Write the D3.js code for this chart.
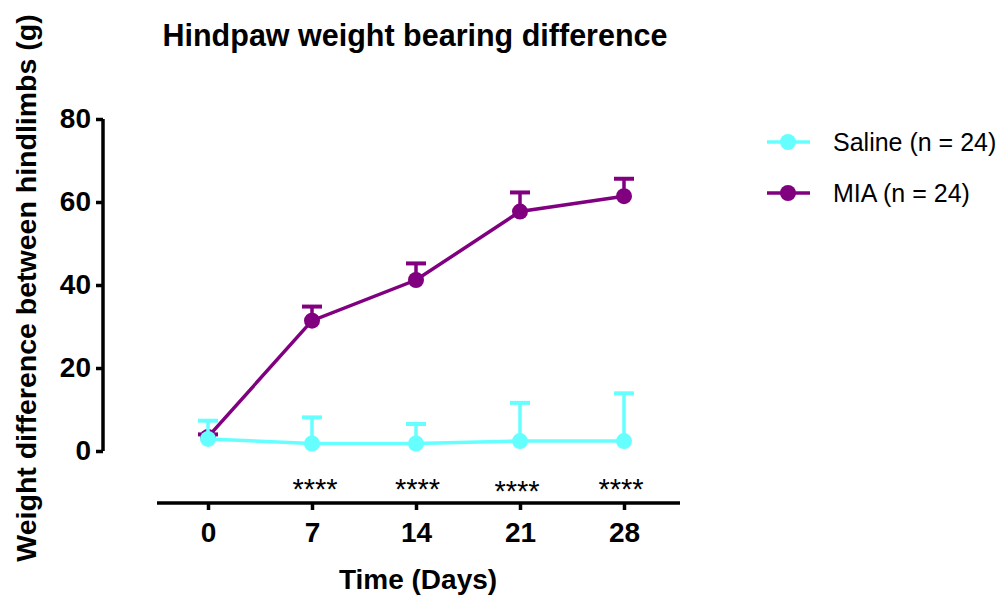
<!DOCTYPE html>
<html>
<head>
<meta charset="utf-8">
<script src="https://cdn.jsdelivr.net/npm/d3@7"></script>
<style>
  body { margin: 0; background: #fff; }
  svg { display: block; font-family: Arial, "Liberation Sans", sans-serif; }
</style>
</head>
<body>
<svg class="chart"></svg>
<script>
const width = 999;
const height = 597;

// data
const days = [0, 7, 14, 21, 28];
const salineMean = [2.9, 1.8, 1.8, 2.4, 2.4];
const salineErr = [4.4, 6.3, 4.7, 9.2, 11.5];
const miaMean = [3.4, 31.4, 41.2, 57.7, 61.4];
const miaErr = [0.6, 3.4, 4.0, 4.6, 4.2];
const yTicks = [0, 20, 40, 60, 80];
const starDays = [7.2, 14.1, 20.8, 27.8];
const starLabels = ['****', '****', '****', '****'];
const seriesNames = ['Saline (n = 24)', 'MIA (n = 24)'];
const seriesColors = ['#66ffff', '#800080'];

const svg = d3.select('.chart')
  .attr('width', width)
  .attr('height', height);

const x = d3.scaleLinear().domain([0, 28]).range([208, 624]);
const y = d3.scaleLinear().domain([0, 80]).range([451, 119]);

// y axis
const yAxis = d3.axisLeft(y).tickValues(yTicks).tickSize(7).tickPadding(5);
const gy = svg.append('g')
  .attr('transform', 'translate(103,0)')
  .call(yAxis);
gy.select('.domain').attr('stroke', '#000').attr('stroke-width', 3.5)
  .attr('d', `M0,${y(0)}V${y(80)}`);
gy.selectAll('.tick line').attr('stroke-width', 3.5);
gy.selectAll('.tick text')
  .attr('font-size', 28).attr('font-weight', 'bold').attr('fill', '#000')
  .attr('font-family', 'Arial, "Liberation Sans", sans-serif');

// x axis
const xAxis = d3.axisBottom(x).tickValues(days).tickSize(7).tickPadding(12);
const gx = svg.append('g')
  .attr('transform', 'translate(0,503)')
  .call(xAxis);
gx.select('.domain').attr('stroke', '#000').attr('stroke-width', 3.5)
  .attr('d', 'M157,0H680');
gx.selectAll('.tick line').attr('stroke-width', 3.5);
gx.selectAll('.tick text')
  .attr('font-size', 28).attr('font-weight', 'bold').attr('fill', '#000')
  .attr('font-family', 'Arial, "Liberation Sans", sans-serif');

// titles
svg.append('text')
  .attr('x', 415).attr('y', 46)
  .attr('text-anchor', 'middle')
  .attr('font-size', 30.5).attr('font-weight', 'bold')
  .text('Hindpaw weight bearing difference');

svg.append('text')
  .attr('x', 418).attr('y', 589)
  .attr('text-anchor', 'middle')
  .attr('font-size', 28).attr('font-weight', 'bold')
  .text('Time (Days)');

svg.append('text')
  .attr('transform', 'translate(36,288) rotate(-90)')
  .attr('text-anchor', 'middle')
  .attr('font-size', 28.5).attr('font-weight', 'bold')
  .text('Weight difference between hindlimbs (g)');

// series, MIA drawn first so saline sits on top
const series = [
  {name: seriesNames[1], color: seriesColors[1], mean: miaMean, err: miaErr},
  {name: seriesNames[0], color: seriesColors[0], mean: salineMean, err: salineErr}
];

const line = d3.line().x(d => x(d.day)).y(d => y(d.v));

series.forEach(s => {
  const pts = days.map((d, i) => ({day: d, v: s.mean[i], e: s.err[i]}));
  const g = svg.append('g');

  // error bars (upper only)
  g.selectAll('.bar').data(pts).enter().append('line')
    .attr('x1', d => x(d.day)).attr('x2', d => x(d.day))
    .attr('y1', d => y(d.v)).attr('y2', d => y(d.v + d.e))
    .attr('stroke', s.color).attr('stroke-width', 3.5);
  g.selectAll('.cap').data(pts).enter().append('line')
    .attr('x1', d => x(d.day) - 10).attr('x2', d => x(d.day) + 10)
    .attr('y1', d => y(d.v + d.e)).attr('y2', d => y(d.v + d.e))
    .attr('stroke', s.color).attr('stroke-width', 4);

  g.append('path').datum(pts)
    .attr('d', line)
    .attr('fill', 'none')
    .attr('stroke', s.color).attr('stroke-width', 3.5);

  g.selectAll('circle').data(pts).enter().append('circle')
    .attr('cx', d => x(d.day)).attr('cy', d => y(d.v))
    .attr('r', 8)
    .attr('fill', s.color);
});

// significance stars
svg.selectAll('.star').data(starDays).enter().append('text')
  .attr('x', d => x(d))
  .attr('y', (d, i) => i === 2 ? 501 : 499)
  .attr('text-anchor', 'middle')
  .attr('font-size', 29)
  .text((d, i) => starLabels[i]);

// legend
const legend = svg.append('g');
seriesNames.forEach((name, i) => {
  const ly = 142 + i * 51;
  legend.append('line')
    .attr('x1', 767).attr('x2', 810).attr('y1', ly).attr('y2', ly)
    .attr('stroke', seriesColors[i]).attr('stroke-width', 3.5);
  legend.append('circle')
    .attr('cx', 788).attr('cy', ly).attr('r', 8)
    .attr('fill', seriesColors[i]);
  legend.append('text')
    .attr('x', 833).attr('y', ly + 9)
    .attr('font-size', 25)
    .text(name);
});
</script>
</body>
</html>
